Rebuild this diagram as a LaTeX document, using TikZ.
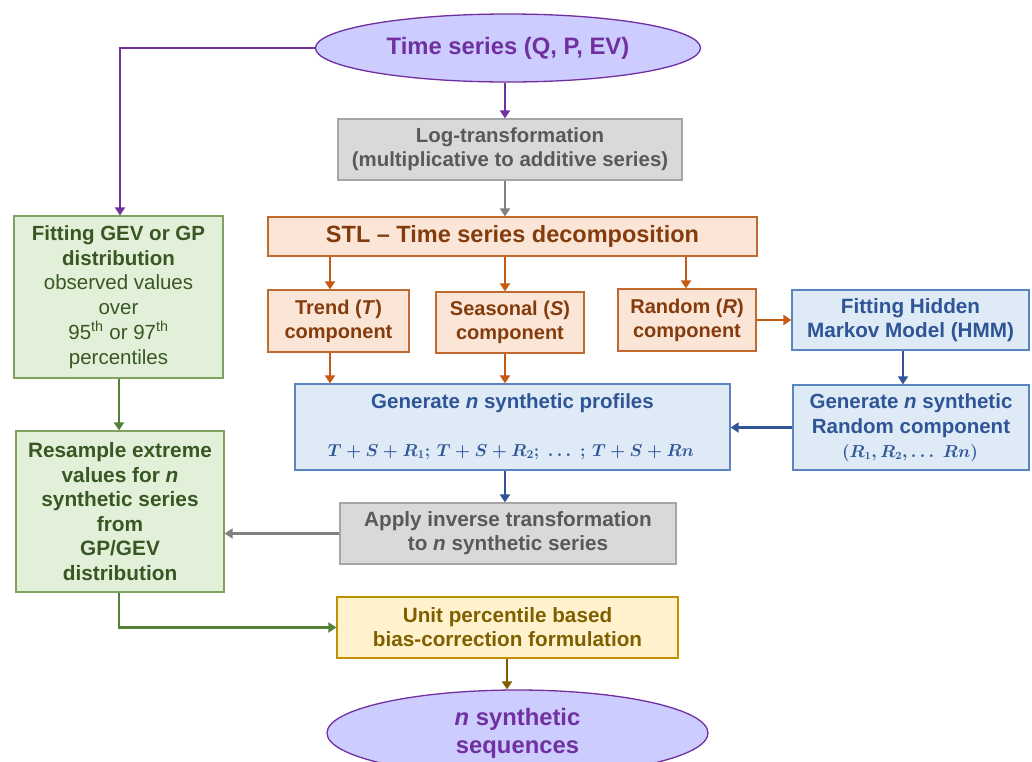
\documentclass[tikz,border=0pt]{standalone}
\usepackage{amsmath}
\usepackage{fontspec}
\setmainfont{Liberation Sans}
\usetikzlibrary{arrows.meta,shapes.geometric}
\definecolor{purp}{HTML}{7030A0}
\definecolor{purpfill}{HTML}{CCCCFF}
\definecolor{grayfill}{HTML}{D9D9D9}
\definecolor{grayline}{HTML}{A6A6A6}
\definecolor{graytext}{HTML}{595959}
\definecolor{grayarrow}{HTML}{808080}
\definecolor{orfill}{HTML}{FBE5D6}
\definecolor{orline}{HTML}{C06A30}
\definecolor{ortext}{HTML}{843C0C}
\definecolor{orarrow}{HTML}{C55A11}
\definecolor{blfill}{HTML}{DEEBF7}
\definecolor{blline}{HTML}{5B85C0}
\definecolor{bltext}{HTML}{2F5597}
\definecolor{blarrow}{HTML}{2F5597}
\definecolor{grfill}{HTML}{E2F0D9}
\definecolor{grline}{HTML}{7FA35F}
\definecolor{grtext}{HTML}{385723}
\definecolor{grarrow}{HTML}{548235}
\definecolor{yefill}{HTML}{FFF2CC}
\definecolor{yeline}{HTML}{BF9000}
\definecolor{yetext}{HTML}{7F6000}
\newcommand{\myprofformula}{$T+S+R_1\mathpunct{;}\,T+S+R_2\mathpunct{;}\;\ldots\;\mathpunct{;}\,T+S+Rn$}
\newcommand{\myrandformula}{$(R_1,R_2,\ldots\;Rn)$}
\begin{document}
\begin{tikzpicture}[x=1pt,y=-1pt,
  box/.style={draw, line width=1.3pt, rectangle, inner sep=0pt, align=center, font=\fontsize{20.7}{24}\selectfont\bfseries},
  obox/.style={box, fill=orfill, draw=orline, text=ortext},
  gbox/.style={box, fill=grayfill, draw=grayline, text=graytext},
  bbox/.style={box, fill=blfill, draw=blline, text=bltext},
  grbox/.style={box, fill=grfill, draw=grline, text=grtext},
  ybox/.style={box, fill=yefill, draw=yeline, text=yetext},
  ell/.style={ellipse, draw=purp, line width=1.3pt, fill=purpfill, text=purp, inner sep=0pt, align=center, font=\fontsize{23.8}{28}\selectfont\bfseries},
  arr/.style={line width=2.3pt, -{Triangle[width=10pt,length=8pt]}},
  txt/.style={text=bltext, align=center, inner sep=0pt},
]
\clip (0,0) rectangle (1032,761);
\fill[white] (0,0) rectangle (1032,761);

\node[ell, minimum width=385pt, minimum height=68pt] (ts) at (508,48) {Time series (Q, P, EV)};
\node[gbox, minimum width=344pt, minimum height=61pt, font=\fontsize{20.4}{24}\selectfont\bfseries] (log) at (510,149.5) {Log-transformation\\(multiplicative to additive series)};
\node[obox, minimum width=489pt, minimum height=39pt, font=\fontsize{23.5}{26}\selectfont\bfseries] (stl) at (512.5,236.5) {STL -- Time series decomposition};
\node[obox, minimum width=141pt, minimum height=62pt, font=\fontsize{20}{24}\selectfont\bfseries] (trend) at (338.5,321) {Trend (\textit{T})\\component};
\node[obox, minimum width=148pt, minimum height=61pt, font=\fontsize{20}{24}\selectfont\bfseries] (seas) at (510,322.5) {Seasonal (\textit{S})\\component};
\node[obox, minimum width=138pt, minimum height=62pt, font=\fontsize{20}{24}\selectfont\bfseries] (rand) at (687,320) {Random (\textit{R})\\component};
\node[bbox, minimum width=237pt, minimum height=60pt] (hmm) at (910.5,320) {Fitting Hidden\\Markov Model (HMM)};
\node[bbox, minimum width=435pt, minimum height=86pt] (genp) at (512.5,427) {};
\node[txt, font=\fontsize{20.5}{24}\selectfont\bfseries] (genpt) at (512.5,403) {Generate \textit{n} synthetic profiles};
\node[txt, font=\fontsize{16.5}{24}\selectfont\boldmath] (genpm) at (511,452) {\myprofformula};
\node[bbox, minimum width=236pt, minimum height=85pt] (genr) at (911,427.5) {};
\node[txt, font=\fontsize{20.5}{24.5}\selectfont\bfseries] (genrt) at (911,415.5) {Generate \textit{n} synthetic\\Random component};
\node[txt, font=\fontsize{16}{24}\selectfont\boldmath] (genrm) at (910,453) {\myrandformula};
\node[gbox, minimum width=336pt, minimum height=61pt] (inv) at (508,533.5) {Apply inverse transformation\\to \textit{n} synthetic series};
\node[ybox, minimum width=341pt, minimum height=61pt] (unit) at (507.5,627.5) {Unit percentile based\\bias-correction formulation};
\node[ell, minimum width=381pt, minimum height=86pt] (seq) at (517.5,733) {\textit{n} synthetic\\sequences};
\node[grbox, minimum width=209pt, minimum height=162pt, font=\fontsize{20.5}{24.8}\selectfont\bfseries] (gev) at (118.5,297) {Fitting GEV or GP\\distribution\\\mdseries observed values\\\mdseries over\\\mdseries 95\textsuperscript{th} or 97\textsuperscript{th}\\\mdseries percentiles};
\node[grbox, minimum width=208pt, minimum height=161pt, font=\fontsize{20.8}{24.6}\selectfont\bfseries] (res) at (120,511.5) {Resample extreme\\values for \textit{n}\\synthetic series\\from\\GP/GEV\\distribution};

% connectors
\coordinate (c1) at (120,48);
\draw[arr, purp] (ts.west) -- (c1) -- (gev.north -| c1);
\draw[arr, purp] (ts.south -| 505,0) -- (log.north -| 505,0);
\draw[arr, grayarrow] (log.south -| 505,0) -- (stl.north -| 505,0);
\draw[arr, orarrow] (stl.south -| 330,0) -- (trend.north -| 330,0);
\draw[arr, orarrow] (stl.south -| 505,0) -- (seas.north -| 505,0);
\draw[arr, orarrow] (stl.south -| 686,0) -- (rand.north -| 686,0);
\draw[arr, orarrow] (trend.south -| 330,0) -- (genp.north -| 330,0);
\draw[arr, orarrow] (seas.south -| 505,0) -- (genp.north -| 505,0);
\draw[arr, orarrow] (rand.east) -- (hmm.west |- rand.east);
\draw[arr, blarrow] (hmm.south -| 903,0) -- (genr.north -| 903,0);
\draw[arr, blarrow] (genr.west) -- (genp.east |- genr.west);
\draw[arr, blarrow] (genp.south -| 505,0) -- (inv.north -| 505,0);
\draw[arr, grayarrow] (inv.west) -- (res.east |- inv.west);
\draw[arr, grarrow] (gev.south -| 119,0) -- (res.north -| 119,0);
\draw[arr, grarrow] (res.south -| 119,0) |- (unit.west);
\draw[arr, yetext] (unit.south -| 507,0) -- (seq.north -| 507,0);
\end{tikzpicture}
\end{document}
